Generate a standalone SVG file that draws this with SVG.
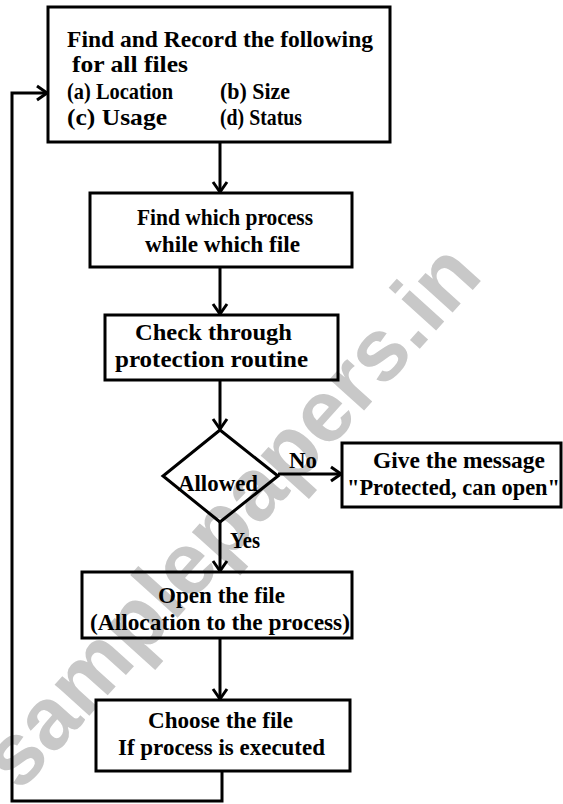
<svg xmlns="http://www.w3.org/2000/svg" width="563" height="804" viewBox="0 0 563 804">
  <defs>
    <style>
      .box { fill: none; stroke: #000; stroke-width: 3; }
      .line { fill: none; stroke: #000; stroke-width: 3; }
      .t { font-family: "Liberation Serif", "Times New Roman", serif; font-size: 23px; font-weight: bold; fill: #000; }
      .wm { font-family: "Liberation Sans", Arial, sans-serif; font-size: 88px; font-weight: bold; fill: #c8c8c8; }
    </style>
    <marker id="arr" viewBox="-12 -9 14 18" markerWidth="14" markerHeight="18" refX="0" refY="0" orient="auto" markerUnits="userSpaceOnUse">
      <path d="M-10,-7 L0,0 L-10,7" fill="none" stroke="#000" stroke-width="3"/>
    </marker>
  </defs>

  <rect width="563" height="804" fill="#fff"/>

  <!-- background watermark -->
  <text class="wm" x="252" y="535" text-anchor="middle" transform="rotate(-48 252 535)">samplepapers.in</text>

  <!-- connectors -->
  <g id="connectors">
    <line class="line" x1="220" y1="143" x2="220" y2="192" marker-end="url(#arr)"/>
    <line class="line" x1="220" y1="267" x2="220" y2="314" marker-end="url(#arr)"/>
    <line class="line" x1="220" y1="380" x2="220" y2="429" marker-end="url(#arr)"/>
    <line class="line" x1="278" y1="474" x2="341" y2="474" marker-end="url(#arr)"/>
    <line class="line" x1="220" y1="522" x2="220" y2="571" marker-end="url(#arr)"/>
    <line class="line" x1="220" y1="638" x2="220" y2="699" marker-end="url(#arr)"/>
    <polyline class="line" points="222,770 222,801 12,801 12,93 47,93" marker-end="url(#arr)"/>
    <text class="t" x="289" y="468" textLength="28" lengthAdjust="spacingAndGlyphs">No</text>
    <text class="t" x="230" y="548" textLength="30" lengthAdjust="spacingAndGlyphs">Yes</text>
  </g>

  <!-- start: record file attributes -->
  <g id="record">
    <rect class="box" x="48" y="7" width="342" height="135"/>
    <text class="t" x="67" y="47" textLength="306" lengthAdjust="spacingAndGlyphs">Find and Record the following</text>
    <text class="t" x="72" y="72" textLength="116" lengthAdjust="spacingAndGlyphs">for all files</text>
    <text class="t" x="67" y="99" textLength="106" lengthAdjust="spacingAndGlyphs">(a) Location</text>
    <text class="t" x="220" y="99" textLength="70" lengthAdjust="spacingAndGlyphs">(b) Size</text>
    <text class="t" x="67" y="125" textLength="100" lengthAdjust="spacingAndGlyphs">(c) Usage</text>
    <text class="t" x="220" y="125" textLength="82" lengthAdjust="spacingAndGlyphs">(d) Status</text>
  </g>

  <g id="find-process">
    <rect class="box" x="90" y="193" width="262" height="74"/>
    <text class="t" x="137" y="225" textLength="176" lengthAdjust="spacingAndGlyphs">Find which process</text>
    <text class="t" x="145" y="252" textLength="155" lengthAdjust="spacingAndGlyphs">while which file</text>
  </g>

  <g id="check">
    <rect class="box" x="105" y="315" width="233" height="65"/>
    <text class="t" x="135" y="340" textLength="157" lengthAdjust="spacingAndGlyphs">Check through</text>
    <text class="t" x="115" y="367" textLength="193" lengthAdjust="spacingAndGlyphs">protection routine</text>
  </g>

  <g id="allowed">
    <polygon class="box" points="220,430 278,476 220,522 163,476"/>
    <text class="t" x="178" y="491" textLength="80" lengthAdjust="spacingAndGlyphs">Allowed</text>
  </g>

  <g id="message">
    <rect class="box" x="342" y="443" width="219" height="64"/>
    <text class="t" x="373" y="468" textLength="172" lengthAdjust="spacingAndGlyphs">Give the message</text>
    <text class="t" x="347" y="495" textLength="213" lengthAdjust="spacingAndGlyphs">"Protected, can open"</text>
  </g>

  <g id="open">
    <rect class="box" x="82" y="572" width="270" height="66"/>
    <text class="t" x="158" y="603" textLength="127" lengthAdjust="spacingAndGlyphs">Open the file</text>
    <text class="t" x="90" y="630" textLength="260" lengthAdjust="spacingAndGlyphs">(Allocation to the process)</text>
  </g>

  <g id="choose">
    <rect class="box" x="96" y="700" width="254" height="71"/>
    <text class="t" x="148" y="728" textLength="145" lengthAdjust="spacingAndGlyphs">Choose the file</text>
    <text class="t" x="118" y="755" textLength="207" lengthAdjust="spacingAndGlyphs">If process is executed</text>
  </g>
</svg>
